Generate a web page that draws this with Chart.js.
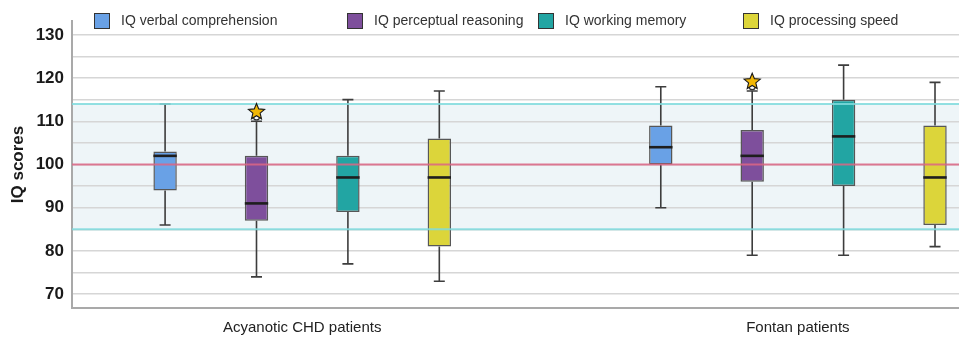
<!DOCTYPE html>
<html><head><meta charset="utf-8">
<script src="https://cdn.jsdelivr.net/npm/chart.js@4.4.1/dist/chart.umd.min.js"></script>
<style>html,body{margin:0;padding:0;background:#fff;overflow:hidden}#wrap{width:959px;height:337px}</style>
</head><body><div id="wrap"><canvas id="c" width="959" height="337"></canvas></div>
<script>
// ---- data ----
const groups = ['Acyanotic CHD patients', 'Fontan patients'];
const seriesNames = ['IQ verbal comprehension', 'IQ perceptual reasoning', 'IQ working memory', 'IQ processing speed'];
const whiskerLow  = [[86, 90], [74, 79], [77, 79], [73, 81]];
const quartile1   = [[94, 100], [87, 96], [89, 95], [81, 86]];
const medians     = [[102, 104], [91, 102], [97, 106.5], [97, 97]];
const quartile3   = [[103, 109], [102, 108], [102, 115], [106, 109]];
const whiskerHigh = [[114, 118], [110, 117], [115, 123], [117, 119]];
const outlierSeries = 1;               // perceptual reasoning
const outlierValues = [111, 118];      // one starred outlier per group
const referenceMean = [100];
const normalBand = [85, 114];

// ---- styles ----
const FONT = "'Liberation Sans', Arial, Helvetica, sans-serif";
const colors = ['#69a1e6', '#7e4f9c', '#22a5a3', '#dcd53a'];
const legendLeft = [94, 347, 538, 743];

function drawStar(ctx, cx, cy, R, r) {
  ctx.beginPath();
  for (let k = 0; k < 10; k++) {
    const a = -Math.PI / 2 + k * Math.PI / 5;
    const rad = k % 2 ? r : R;
    ctx.lineTo(cx + rad * Math.cos(a), cy + rad * Math.sin(a));
  }
  ctx.closePath();
}

const boxPlugin = {
  id: 'boxExtras',
  beforeDraw(chart) {
    const {ctx, chartArea: a, scales: {y}} = chart;
    const top = y.getPixelForValue(normalBand[1]);
    const bot = y.getPixelForValue(normalBand[0]);
    ctx.save();
    ctx.fillStyle = '#eef5f8';
    ctx.fillRect(a.left, top, a.right - a.left, bot - top);
    ctx.restore();
  },
  beforeDatasetsDraw(chart) {
    const {ctx, scales: {y}} = chart;
    ctx.save();
    ctx.strokeStyle = '#3d3d3d';
    ctx.lineWidth = 1.6;
    seriesNames.forEach((n, s) => {
      chart.getDatasetMeta(s).data.forEach((bar, i) => {
        const x = bar.x;
        const yLo = y.getPixelForValue(whiskerLow[s][i]);
        const yHi = y.getPixelForValue(whiskerHigh[s][i]);
        const yQ1 = y.getPixelForValue(quartile1[s][i]);
        const yQ3 = y.getPixelForValue(quartile3[s][i]);
        ctx.beginPath();
        ctx.moveTo(x, yQ3); ctx.lineTo(x, yHi);
        ctx.moveTo(x, yQ1); ctx.lineTo(x, yLo);
        ctx.moveTo(x - 5.5, yHi); ctx.lineTo(x + 5.5, yHi);
        ctx.moveTo(x - 5.5, yLo); ctx.lineTo(x + 5.5, yLo);
        ctx.stroke();
      });
    });
    ctx.restore();
  },
  afterDatasetsDraw(chart) {
    const {ctx, chartArea: a, scales: {y}} = chart;
    ctx.save();
    // medians
    ctx.strokeStyle = '#1e1e1e';
    ctx.lineWidth = 2.6;
    seriesNames.forEach((n, s) => {
      chart.getDatasetMeta(s).data.forEach((bar, i) => {
        const yM = y.getPixelForValue(medians[s][i]);
        ctx.beginPath();
        ctx.moveTo(bar.x - bar.width / 2, yM);
        ctx.lineTo(bar.x + bar.width / 2, yM);
        ctx.stroke();
      });
    });
    // reference lines
    ctx.globalAlpha = 0.85;
    ctx.lineWidth = 2;
    ctx.strokeStyle = '#7fdadd';
    normalBand.forEach(v => {
      const py = y.getPixelForValue(v);
      ctx.beginPath(); ctx.moveTo(a.left, py); ctx.lineTo(a.right, py); ctx.stroke();
    });
    ctx.strokeStyle = '#dc6585';
    referenceMean.forEach(v => {
      const py = y.getPixelForValue(v);
      ctx.beginPath(); ctx.moveTo(a.left, py); ctx.lineTo(a.right, py); ctx.stroke();
    });
    ctx.globalAlpha = 1;
    // outliers
    chart.getDatasetMeta(outlierSeries).data.forEach((bar, i) => {
      const py = y.getPixelForValue(outlierValues[i]);
      ctx.beginPath();
      ctx.arc(bar.x, py, 3, 0, Math.PI * 2);
      ctx.fillStyle = '#ffffff'; ctx.fill();
      ctx.lineWidth = 1.2; ctx.strokeStyle = '#333'; ctx.stroke();
      drawStar(ctx, bar.x, py - 5, 8.5, 3.8);
      ctx.fillStyle = '#f2b705'; ctx.fill();
      ctx.lineWidth = 1.1; ctx.strokeStyle = '#1a1a1a'; ctx.stroke();
    });
    ctx.restore();
  },
  afterDraw(chart) {
    const {ctx} = chart;
    ctx.save();
    ctx.font = '14px ' + FONT;
    ctx.textBaseline = 'middle';
    ctx.textAlign = 'left';
    seriesNames.forEach((name, s) => {
      const x = legendLeft[s];
      ctx.fillStyle = colors[s];
      ctx.fillRect(x, 13, 16, 16);
      ctx.lineWidth = 1;
      ctx.strokeStyle = '#333';
      ctx.strokeRect(x + 0.5, 13.5, 15, 15);
      ctx.fillStyle = '#333';
      ctx.fillText(name, x + 27, 21.5);
    });
    ctx.restore();
  }
};

const datasets = seriesNames.map((name, s) => ({
  label: name,
  data: groups.map((g, i) => ({x: i, y: [quartile1[s][i], quartile3[s][i]]})),
  backgroundColor: colors[s],
  borderColor: '#575757',
  borderWidth: 1.5,
  borderSkipped: false,
  categoryPercentage: 0.7376,
  barPercentage: 0.256
}));

new Chart(document.getElementById('c'), {
  type: 'bar',
  data: {datasets},
  options: {
    responsive: false,
    animation: false,
    devicePixelRatio: 1,
    layout: {padding: {top: 21, right: 0, bottom: 0, left: 0}},
    plugins: {legend: {display: false}, tooltip: {enabled: false}},
    scales: {
      x: {
        type: 'linear', min: -0.4644, max: 1.325, offset: false,
        grid: {display: false, drawTicks: false},
        border: {display: true, color: '#a9a9a9', width: 2},
        afterBuildTicks: (s) => { s.ticks = groups.map((g, i) => ({value: i})); },
        afterFit: (s) => { s.height = 29; },
        ticks: {callback: (v) => groups[v] ?? '', font: {family: FONT, size: 15}, color: '#222', padding: 11, autoSkip: false, maxRotation: 0}
      },
      y: {
        min: 66.8, max: 133.2,
        afterFit: (s) => { s.width = 72; },
        ticks: {stepSize: 5, includeBounds: false, autoSkip: false,
          callback: (v) => (v % 10 === 0 ? v : ''),
          font: {family: FONT, size: 17, weight: 'bold'}, color: '#1a1a1a', padding: 8},
        grid: {color: '#d6d6d6', lineWidth: 1.5, drawTicks: false},
        border: {display: true, color: '#a9a9a9', width: 2},
        title: {display: true, text: 'IQ scores', font: {family: FONT, size: 17, weight: 'bold'}, color: '#1a1a1a', padding: {top: 8, bottom: 0}}
      }
    }
  },
  plugins: [boxPlugin]
});
</script>
</body></html>
